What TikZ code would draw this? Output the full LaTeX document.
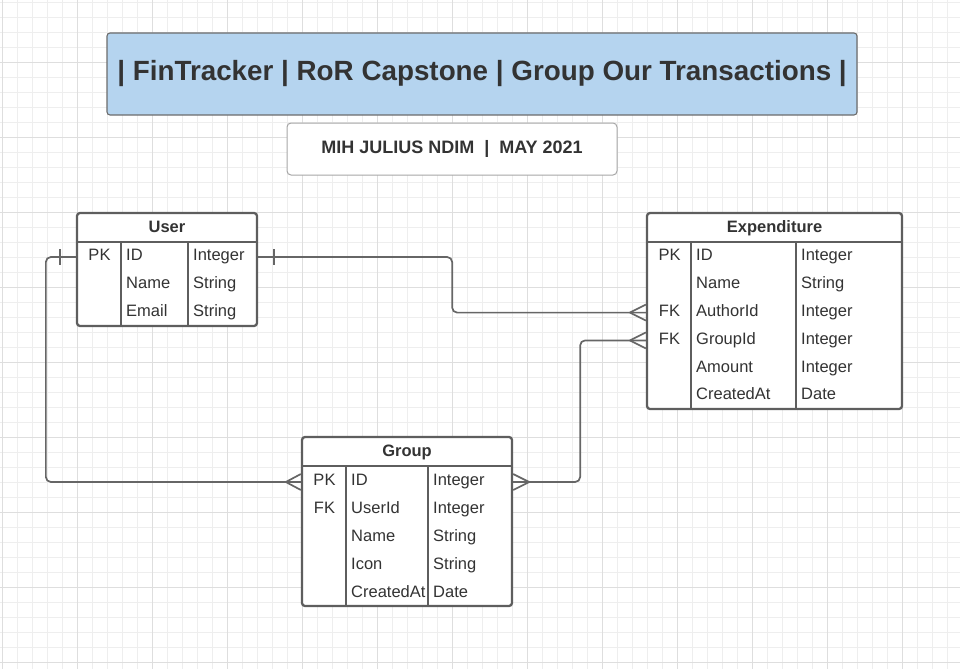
\documentclass[tikz,border=0pt]{standalone}
\usepackage{fontspec}
\setmainfont{Liberation Sans}
\usetikzlibrary{positioning,calc}

\definecolor{gridminor}{HTML}{EEEEEE}
\definecolor{gridmajor}{HTML}{DEDEDE}
\definecolor{inkgray}{HTML}{333333}
\definecolor{boxgray}{HTML}{5E5E5E}
\definecolor{linegray}{HTML}{666666}
\definecolor{titleblue}{HTML}{B5D4EF}

\tikzset{
  titlebox/.style={draw=gray!85!black, line width=1.1pt, fill=titleblue, rounded corners=3pt, text=inkgray,
    font=\fontsize{27.8}{30}\selectfont\bfseries},
  subbox/.style={draw=gray!70, line width=1pt, fill=white, rounded corners=4pt, text=inkgray,
    font=\fontsize{18}{20}\selectfont\bfseries},
  tablebox/.style={draw=boxgray, line width=2.3pt, fill=white, rounded corners=3pt, inner sep=0pt},
  tableline/.style={draw=boxgray, line width=2.3pt},
  cell/.style={anchor=west, inner sep=0pt, text=inkgray, font=\fontsize{16.5}{18}\selectfont,
    text height=12pt, text depth=4.2pt},
  keycell/.style={cell, anchor=center},
  headcell/.style={cell, anchor=center, font=\fontsize{16.5}{18}\selectfont\bfseries},
  conn/.style={draw=linegray, line width=1.7pt},
}

\begin{document}
\begin{tikzpicture}[x=1pt,y=-1pt]
\useasboundingbox (0,0) rectangle (960,669);

% background grid
\foreach \gx in {2,17,...,959} \draw[gridminor, line width=0.6pt] (\gx,0) -- (\gx,669);
\foreach \gy in {2,17,...,668} \draw[gridminor, line width=0.6pt] (0,\gy) -- (960,\gy);
\foreach \gx in {2,77,...,959} \draw[gridmajor, line width=0.7pt] (\gx,0) -- (\gx,669);
\foreach \gy in {62,137,...,668} \draw[gridmajor, line width=0.7pt] (0,\gy) -- (960,\gy);

% headings
\node[titlebox, minimum width=750pt, minimum height=82pt] (title) at (482,74)
  {| FinTracker | RoR Capstone | Group Our Transactions |};
\node[subbox, minimum width=330pt, minimum height=52pt] (author) at (452,149)
  {MIH JULIUS NDIM\ \ |\ \ MAY 2021};

% table frames (text placed later)
\node[tablebox, minimum width=180pt, minimum height=113pt] (user) at (167,269.5) {};
\node[tablebox, minimum width=255pt, minimum height=196pt] (exp) at (774.5,311) {};
\node[tablebox, minimum width=210pt, minimum height=169pt] (group) at (407,521.5) {};

% User rows
\node[headcell] (userhead) at ([yshift=-17pt]user.north) {User};
\foreach \k/\f/\t [count=\i] in {PK/ID/Integer, {}/Name/String, {}/Email/String} {
  \node[keycell] (uk\i) at (99.5,{257+(\i-1)*27.8}) {\k};
  \node[cell] (uf\i) at (126,{257+(\i-1)*27.8}) {\f};
  \node[cell] (ut\i) at (193,{257+(\i-1)*27.8}) {\t};
}

% Expenditure rows
\node[headcell] (exphead) at ([yshift=-17pt]exp.north) {Expenditure};
\foreach \k/\f/\t [count=\i] in {PK/ID/Integer, {}/Name/String, FK/AuthorId/Integer,
    FK/GroupId/Integer, {}/Amount/Integer, {}/CreatedAt/Date} {
  \node[keycell] (ek\i) at (669.5,{257+(\i-1)*27.8}) {\k};
  \node[cell] (ef\i) at (696,{257+(\i-1)*27.8}) {\f};
  \node[cell] (et\i) at (801,{257+(\i-1)*27.8}) {\t};
}

% Group rows
\node[headcell] (grouphead) at ([yshift=-17pt]group.north) {Group};
\foreach \k/\f/\t [count=\i] in {PK/ID/Integer, FK/UserId/Integer, {}/Name/String,
    {}/Icon/String, {}/CreatedAt/Date} {
  \node[keycell] (gk\i) at (324.5,{482+(\i-1)*27.8}) {\k};
  \node[cell] (gf\i) at (351,{482+(\i-1)*27.8}) {\f};
  \node[cell] (gt\i) at (433,{482+(\i-1)*27.8}) {\t};
}

% inner lines
\draw[tableline] ([yshift=-30pt]user.north west) -- ([yshift=-30pt]user.north east);
\draw[tableline] ([xshift=45pt,yshift=-30pt]user.north west) -- ([xshift=45pt]user.south west);
\draw[tableline] ([xshift=112pt,yshift=-30pt]user.north west) -- ([xshift=112pt]user.south west);
\draw[tableline] ([yshift=-30pt]exp.north west) -- ([yshift=-30pt]exp.north east);
\draw[tableline] ([xshift=45pt,yshift=-30pt]exp.north west) -- ([xshift=45pt]exp.south west);
\draw[tableline] ([xshift=150pt,yshift=-30pt]exp.north west) -- ([xshift=150pt]exp.south west);
\draw[tableline] ([yshift=-30pt]group.north west) -- ([yshift=-30pt]group.north east);
\draw[tableline] ([xshift=45pt,yshift=-30pt]group.north west) -- ([xshift=45pt]group.south west);
\draw[tableline] ([xshift=127pt,yshift=-30pt]group.north west) -- ([xshift=127pt]group.south west);

% relations
\draw[conn, rounded corners=5pt] (user.west |- uf1) -- ++(-30,0) |- (group.west |- gf1);
\draw[conn, rounded corners=5pt] (user.east |- uf1) -- ++(194,0) |- (exp.west |- ef3);
\draw[conn, rounded corners=5pt] (group.east |- gf1) -- ++(67,0) |- (exp.west |- ef4);

% one marks
\draw[conn] (user.west |- uf1) ++(-16,-8) -- ++(0,16);
\draw[conn] (user.east |- uf1) ++(16,-8) -- ++(0,16);

% many marks
\draw[conn] (exp.west |- ef3) ++(-16,0) -- ++(16,-8) ++(-16,8) -- ++(16,8);
\draw[conn] (exp.west |- ef4) ++(-16,0) -- ++(16,-8) ++(-16,8) -- ++(16,8);
\draw[conn] (group.west |- gf1) ++(-15,0) -- ++(15,-8) ++(-15,8) -- ++(15,8);
\draw[conn] (group.east |- gf1) ++(16,0) -- ++(-16,-8) ++(16,8) -- ++(-16,8);
\end{tikzpicture}
\end{document}
